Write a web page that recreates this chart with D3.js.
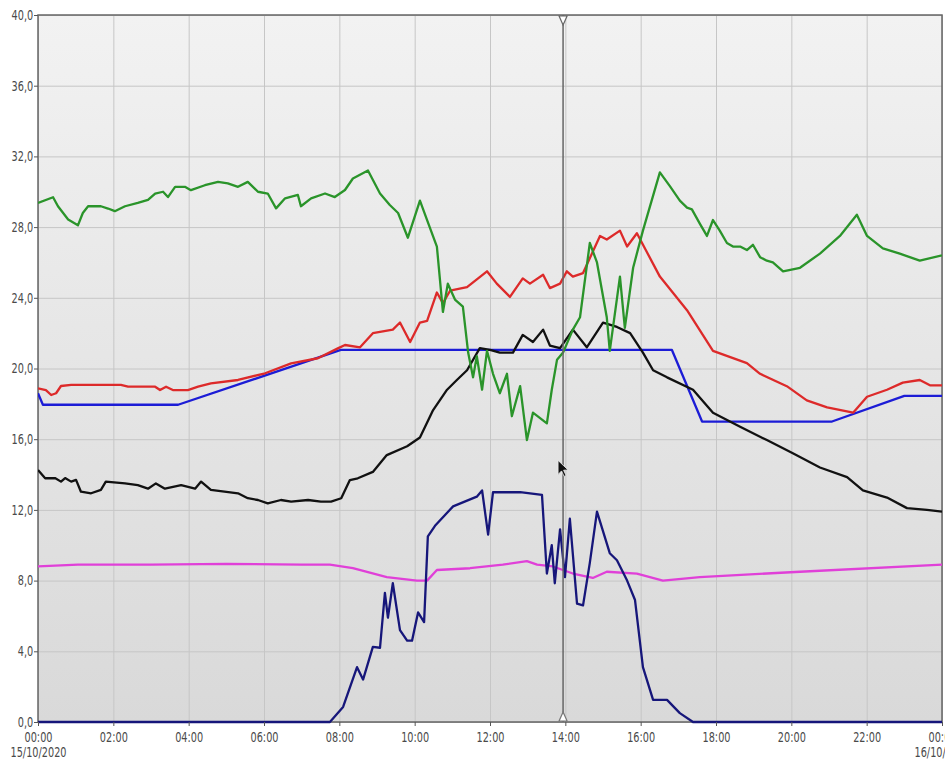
<!DOCTYPE html>
<html>
<head>
<meta charset="utf-8">
<script src="https://cdn.jsdelivr.net/npm/d3@7"></script>
<style>
  html, body { margin: 0; padding: 0; background: #fff; overflow: hidden; }
  svg { display: block; }
  .axis text { font-family: "DejaVu Sans Condensed", "Liberation Sans", sans-serif; font-size: 13.5px; fill: #4a4a4a; }
  .axis line { stroke: #555; }
  .axis .domain { display: none; }
  .grid line { stroke: #c6c6c6; stroke-width: 1; }
  .grid .domain { display: none; }
  .trace { fill: none; stroke-width: 2.3; stroke-linejoin: round; }
</style>
</head>
<body>
<svg id="chart" width="945" height="763"></svg>
<script>
// hours since 00:00 on 15/10/2020
const greenSeries = [
  [0, 29.37], [0.4, 29.69], [0.53, 29.18], [0.8, 28.43], [1.06, 28.1], [1.19, 28.8], [1.33, 29.18],
  [1.67, 29.18], [1.86, 29.05], [2.04, 28.9], [2.31, 29.18], [2.65, 29.37], [2.92, 29.54], [3.11, 29.9],
  [3.32, 30.0], [3.45, 29.7], [3.64, 30.28], [3.9, 30.28], [4.06, 30.09], [4.43, 30.37], [4.78, 30.56],
  [5.04, 30.47], [5.31, 30.28], [5.57, 30.56], [5.84, 30.0], [6.1, 29.9], [6.32, 29.06], [6.56, 29.63],
  [6.9, 29.82], [6.98, 29.18], [7.25, 29.63], [7.62, 29.9], [7.88, 29.7], [8.15, 30.1], [8.36, 30.75],
  [8.76, 31.2], [9.08, 29.9], [9.34, 29.25], [9.56, 28.8], [9.82, 27.4], [10.14, 29.5], [10.33, 28.4],
  [10.59, 26.9], [10.75, 23.2], [10.88, 24.8], [11.07, 23.9], [11.28, 23.5], [11.42, 20.9], [11.55, 19.5],
  [11.65, 20.7], [11.79, 18.8], [11.92, 21.0], [12.08, 19.7], [12.26, 18.6], [12.45, 19.7], [12.58, 17.3],
  [12.8, 19.0], [12.98, 15.95], [13.14, 17.5], [13.51, 16.9], [13.64, 18.8], [13.78, 20.5], [13.94, 20.9],
  [14.2, 22.2], [14.39, 22.9], [14.65, 27.1], [14.84, 26.0], [15.1, 22.9], [15.18, 21.0], [15.45, 25.2],
  [15.58, 22.3], [15.8, 25.7], [16.06, 27.8], [16.51, 31.1], [16.78, 30.3], [17.04, 29.5], [17.23, 29.1],
  [17.36, 29.0], [17.57, 28.2], [17.76, 27.5], [17.92, 28.4], [18.1, 27.8], [18.29, 27.1], [18.45, 26.9],
  [18.64, 26.9], [18.82, 26.7], [18.98, 27.0], [19.17, 26.3], [19.35, 26.1], [19.51, 26.0], [19.78, 25.5],
  [20.23, 25.7], [20.76, 26.5], [21.29, 27.5], [21.74, 28.7], [22.01, 27.5], [22.43, 26.8], [22.88, 26.5],
  [23.41, 26.1], [24, 26.4]
];

const redSeries = [
  [0, 18.88], [0.21, 18.78], [0.35, 18.5], [0.48, 18.6], [0.61, 19.01], [0.88, 19.07], [2.2, 19.07],
  [2.39, 18.97], [3.11, 18.97], [3.24, 18.78], [3.4, 18.97], [3.58, 18.78], [3.98, 18.78], [4.25, 18.97],
  [4.59, 19.16], [5.31, 19.35], [6.03, 19.73], [6.72, 20.29], [7.43, 20.58], [7.96, 21.14], [8.15, 21.33],
  [8.55, 21.2], [8.89, 22.0],
  [9.42, 22.2], [9.61, 22.6], [9.88, 21.5], [10.14, 22.6], [10.33, 22.7], [10.59, 24.3], [10.75, 23.7],
  [10.94, 24.4], [11.39, 24.6], [11.92, 25.5], [12.18, 24.8], [12.53, 24.05], [12.87, 25.1], [13.06, 24.8],
  [13.41, 25.3], [13.59, 24.55], [13.86, 24.8], [14.04, 25.5], [14.2, 25.2], [14.47, 25.4], [14.92, 27.5],
  [15.1, 27.3], [15.45, 27.8], [15.64, 26.9], [15.9, 27.65], [16.51, 25.2], [17.23, 23.3], [17.92, 21.0],
  [18.82, 20.3], [19.17, 19.7], [19.88, 19.0], [20.41, 18.2], [20.95, 17.8], [21.64, 17.5], [22.01, 18.4],
  [22.54, 18.8], [22.96, 19.2], [23.41, 19.35], [23.68, 19.05], [24, 19.05]
];

const blueSeries = [
  [0, 18.6], [0.13, 17.95], [3.72, 17.95], [8.04, 21.05], [16.83, 21.05], [17.63, 17.0],
  [21.08, 17.0], [23.0, 18.45], [24, 18.45]
];

const blackSeries = [
  [0, 14.26], [0.19, 13.79], [0.45, 13.8], [0.61, 13.6], [0.72, 13.8], [0.88, 13.6], [1.01, 13.7],
  [1.14, 13.03], [1.41, 12.94], [1.67, 13.13], [1.8, 13.6], [2.31, 13.5], [2.65, 13.4], [2.92, 13.2],
  [3.13, 13.5], [3.37, 13.2], [3.8, 13.4], [4.17, 13.2], [4.33, 13.6], [4.59, 13.13], [5.31, 12.94],
  [5.57, 12.66], [5.84, 12.56], [6.1, 12.37], [6.45, 12.56], [6.72, 12.47], [7.17, 12.56], [7.51, 12.47],
  [7.78, 12.47], [8.05, 12.66], [8.28, 13.69], [8.49, 13.79], [8.89, 14.15], [9.26, 15.1], [9.8, 15.6],
  [10.14, 16.1], [10.49, 17.65], [10.86, 18.8],
  [11.12, 19.35], [11.39, 19.9], [11.73, 21.15], [12.0, 21.05], [12.26, 20.9], [12.61, 20.9], [12.87, 21.9],
  [13.14, 21.5], [13.41, 22.2], [13.59, 21.3], [13.86, 21.15], [14.2, 22.2], [14.57, 21.2], [15.0, 22.6],
  [15.37, 22.35], [15.72, 22.0], [16.06, 20.9], [16.33, 19.9], [16.7, 19.5], [17.39, 18.8], [17.92, 17.5],
  [18.64, 16.7], [19.35, 15.95], [20.04, 15.2], [20.76, 14.4], [21.48, 13.85], [21.9, 13.1], [22.54, 12.7],
  [23.07, 12.1], [23.6, 12.0], [24, 11.9]
];

const magentaSeries = [
  [0, 8.8], [1.06, 8.9], [3, 8.9], [5, 8.95], [7, 8.9], [7.75, 8.9], [8.36, 8.7], [9.26, 8.2],
  [10.06, 8.0], [10.33, 8.0], [10.59, 8.6], [11.47, 8.7], [12.34, 8.9], [12.98, 9.1], [13.25, 8.9],
  [13.67, 8.8], [14.2, 8.4], [14.73, 8.15], [15.1, 8.5], [15.9, 8.4], [16.59, 8.0], [17.57, 8.2],
  [20.23, 8.5], [24, 8.9]
];

const navySeries = [
  [0, 0], [7.75, 0], [8.1, 0.85], [8.47, 3.1], [8.63, 2.4], [8.89, 4.25], [9.08, 4.2], [9.21, 7.3],
  [9.29, 5.9], [9.42, 7.85], [9.61, 5.2], [9.8, 4.6], [9.93, 4.6], [10.09, 6.2], [10.25, 5.65],
  [10.35, 10.5], [10.54, 11.1], [11.02, 12.2], [11.65, 12.75], [11.79, 13.1], [11.95, 10.6], [12.08, 13.0],
  [12.8, 13.0], [13.38, 12.85], [13.51, 8.4], [13.64, 10.0], [13.72, 7.85], [13.86, 10.9], [13.99, 8.2],
  [14.12, 11.5], [14.31, 6.7], [14.47, 6.6], [14.65, 9.0], [14.84, 11.9], [15.18, 9.55], [15.37, 9.15],
  [15.64, 8.0], [15.85, 6.9], [16.06, 3.1], [16.33, 1.25], [16.7, 1.25], [17.04, 0.5], [17.39, 0], [24, 0]
];

const xTicks = [0, 2, 4, 6, 8, 10, 12, 14, 16, 18, 20, 22, 24];
const yTicks = [0, 4, 8, 12, 16, 20, 24, 28, 32, 36, 40];
const dayLabels = [[0, "15/10/2020"], [24, "16/10/2020"]];
const cursorHour = 13.94;

const series = [
  { data: magentaSeries, color: "#e040d8" },
  { data: navySeries, color: "#16167a" },
  { data: blueSeries, color: "#1c1cd6" },
  { data: redSeries, color: "#dd2a2a" },
  { data: blackSeries, color: "#111111" },
  { data: greenSeries, color: "#2a942a" }
];

const svg = d3.select("#chart");
const plotLeft = 38, plotRight = 942, plotTop = 15, plotBottom = 722;
const squeeze = "scale(0.8,1)";

const x = d3.scaleLinear().domain([0, 24]).range([plotLeft, plotRight]);
const y = d3.scaleLinear().domain([0, 40]).range([plotBottom, plotTop]);

const defs = svg.append("defs");
const grad = defs.append("linearGradient")
  .attr("id", "bg").attr("x1", 0).attr("y1", 0).attr("x2", 0).attr("y2", 1);
grad.append("stop").attr("offset", "0%").attr("stop-color", "#f2f2f2");
grad.append("stop").attr("offset", "100%").attr("stop-color", "#d9d9d9");

defs.append("clipPath").attr("id", "plotClip")
  .append("rect").attr("x", plotLeft).attr("y", plotTop)
  .attr("width", plotRight - plotLeft).attr("height", plotBottom - plotTop + 2);

svg.append("rect")
  .attr("x", plotLeft).attr("y", plotTop)
  .attr("width", plotRight - plotLeft).attr("height", plotBottom - plotTop)
  .attr("fill", "url(#bg)");

// grid
svg.append("g")
  .attr("class", "grid")
  .attr("transform", `translate(0,${plotBottom})`)
  .call(d3.axisBottom(x).tickValues(xTicks).tickSize(-(plotBottom - plotTop)).tickFormat(""));

svg.append("g")
  .attr("class", "grid")
  .attr("transform", `translate(${plotLeft},0)`)
  .call(d3.axisLeft(y).tickValues(yTicks).tickSize(-(plotRight - plotLeft)).tickFormat(""));

// frame (bottom edge sits under the traces)
svg.append("path")
  .attr("d", `M${plotLeft},${plotBottom}V${plotTop}H${plotRight}V${plotBottom}H${plotLeft}`)
  .attr("fill", "none").attr("stroke", "#666").attr("stroke-width", 1.5);

// traces
const line = d3.line().x(d => x(d[0])).y(d => y(d[1]));
const traces = svg.append("g").attr("clip-path", "url(#plotClip)");
series.forEach(s => {
  traces.append("path")
    .datum(s.data)
    .attr("class", "trace")
    .attr("stroke", s.color)
    .attr("d", line);
});

// axes
const fmtY = d => d3.format(".1f")(d).replace(".", ",");
const fmtX = d => String(d % 24 === 0 ? 0 : d).padStart(2, "0") + ":00";

svg.append("g")
  .attr("class", "axis")
  .attr("transform", `translate(${plotLeft},0)`)
  .call(d3.axisLeft(y).tickValues(yTicks).tickSize(4).tickPadding(2).tickFormat(fmtY))
  .selectAll(".tick text").attr("transform", squeeze);

const xAxis = svg.append("g")
  .attr("class", "axis")
  .attr("transform", `translate(0,${plotBottom})`)
  .call(d3.axisBottom(x).tickValues(xTicks).tickSize(4).tickPadding(6).tickFormat(fmtX));

xAxis.selectAll(".tick")
  .filter(d => dayLabels.some(l => l[0] === d))
  .append("text")
  .attr("y", 25)
  .attr("fill", "#4a4a4a")
  .attr("dy", "0.71em")
  .text(d => dayLabels.find(l => l[0] === d)[1]);

xAxis.selectAll(".tick text").attr("transform", squeeze);

// cursor
const cx = x(cursorHour);
svg.append("line")
  .attr("x1", cx).attr("x2", cx).attr("y1", plotTop).attr("y2", plotBottom)
  .attr("stroke", "#666").attr("stroke-width", 1.5);
svg.append("path")
  .attr("d", `M${cx - 4},${plotTop + 1}L${cx + 4},${plotTop + 1}L${cx},${plotTop + 10}Z`)
  .attr("fill", "#fff").attr("stroke", "#666").attr("stroke-width", 1.2);
svg.append("path")
  .attr("d", `M${cx - 4},${plotBottom - 1}L${cx + 4},${plotBottom - 1}L${cx},${plotBottom - 10}Z`)
  .attr("fill", "#fff").attr("stroke", "#777").attr("stroke-width", 1.2);

// mouse pointer
svg.append("path")
  .attr("transform", `translate(${cx - 5},${y(14.8)})`)
  .attr("d", "M0,0L0,14L3.5,10.5L6,16L8,15L5.5,9.8L10,9.5Z")
  .attr("fill", "#111").attr("stroke", "#eee").attr("stroke-width", 0.8);
</script>
</body>
</html>
